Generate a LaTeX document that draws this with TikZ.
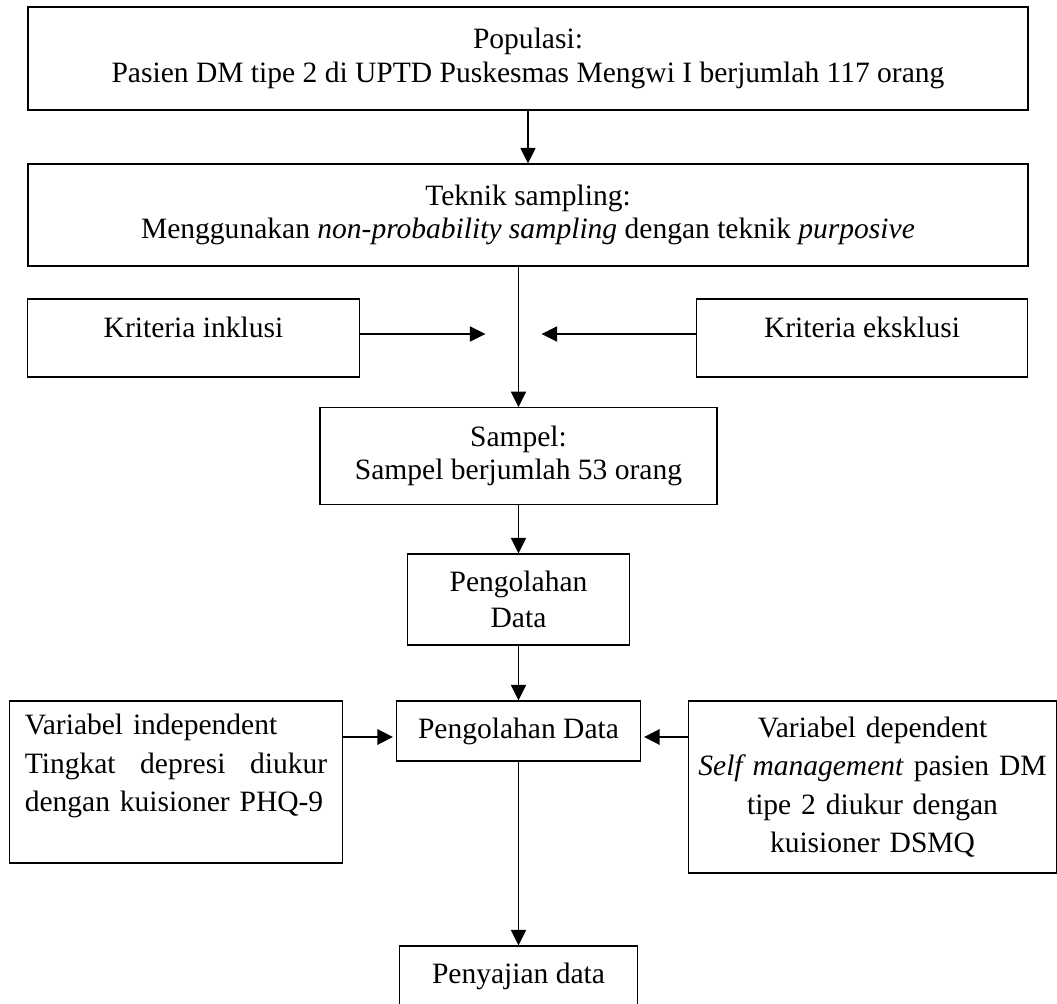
\documentclass[tikz,border=0pt]{standalone}
\usepackage{fontspec}
\setmainfont{Liberation Serif}
\usetikzlibrary{arrows.meta}
\tikzstyle{stage} = [rectangle, draw, line width=0.55pt, align=center, inner sep=0pt, font=\fontsize{12.4}{14}\selectfont]
\tikzstyle{criteria} = [rectangle, draw, line width=0.55pt, minimum width=139.2pt, inner sep=0pt, text height=16pt, text depth=16.8pt, font=\fontsize{12.4}{14}\selectfont]
\tikzstyle{varbox} = [rectangle, draw, line width=0.55pt, inner xsep=3pt, font=\fontsize{12.4}{16.2}\selectfont]
\tikzstyle{flow} = [line width=0.7pt, -{Triangle[length=6.5pt, width=6.3pt]}]
\tikzstyle{boldflow} = [flow, line width=1.2pt, shorten >=1.2pt]
\begin{document}
\begin{tikzpicture}
            \useasboundingbox (0,0) rectangle (443.94pt,-421.26pt);
            \node (pop) [stage, minimum width=420pt, minimum height=43.26pt] at (221.76pt,-24.57pt) {
                Populasi:\\
                Pasien DM tipe 2 di UPTD Puskesmas Mengwi I berjumlah 117 orang
            };
            \node (teknik) [stage, minimum width=420pt, minimum height=42.84pt, below of = pop, yshift = -37.28pt] {
                Teknik sampling:\\
                Menggunakan \textit{non-probability sampling} dengan teknik \textit{purposive}
            };
            \node (inkl) [criteria, below of = teknik, xshift = -140.49pt, yshift = -23.21pt] {Kriteria inklusi};
            \node (ekskl) [criteria, below of = teknik, xshift = 140.28pt, yshift = -23.21pt] {Kriteria eksklusi};
            \node (sampel) [stage, minimum width=166.7pt, minimum height=40.5pt, below of = teknik, xshift = -3.99pt, yshift = -72.77pt] {
                Sampel:\\
                Sampel berjumlah 53 orang
            };
            \node (olah1) [stage, minimum width=93.2pt, minimum height=38.2pt, font=\fontsize{12.4}{15}\selectfont, below of = sampel, yshift = -31.82pt] {
                Pengolahan\\
                Data
            };
            \node (olah2) [stage, minimum width=102.5pt, minimum height=25.2pt, below of = olah1, yshift = -26.78pt] {Pengolahan Data};
            \node (indep) [varbox, minimum width=139.9pt, minimum height=68pt, text width=127pt, align=left, left of = olah2, xshift = -115.4pt, yshift = -21.42pt] {
                Variabel independent\\
                Tingkat\hfill depresi\hfill diukur\\
                dengan kuisioner PHQ-9\\
                \mbox{}
            };
            \node (dep) [varbox, minimum width=154.6pt, minimum height=72.2pt, text width=148pt, align=center, right of = olah2, xshift = 120.23pt, yshift = -23.52pt] {
                Variabel dependent\\
                \textit{Self management} pasien DM\\
                tipe 2 diukur dengan\\
                kuisioner DSMQ
            };
            \node (saji) [stage, minimum width=100pt, minimum height=25.2pt, below of = olah2, yshift = -74.45pt] {Penyajian data};
            \path ([yshift=1.7pt]inkl.east) coordinate (inklout);
            \path ([yshift=1.7pt]ekskl.west) coordinate (eksklout);
            \path (inklout -| sampel) ++(-13.9pt,0) coordinate (inkltip);
            \path (eksklout -| sampel) ++(9.7pt,0) coordinate (eksktip);
            \path ([yshift=-2.5pt]olah2.west) coordinate (olahleft);
            \path ([yshift=-2.5pt]olah2.east) coordinate (olahright);
            \draw [flow] (pop) -- (teknik);
            \draw [flow] (teknik.south -| sampel) -- (sampel);
            \draw [flow] (inklout) -- (inkltip);
            \draw [flow] (eksklout) -- (eksktip);
            \draw [flow] (sampel) -- (olah1);
            \draw [flow] (olah1) -- (olah2);
            \draw [boldflow] (olahleft -| indep.east) -- (olahleft);
            \draw [boldflow] (olahright -| dep.west) -- (olahright);
            \draw [flow] (olah2) -- (saji);
        \end{tikzpicture}
\end{document}
